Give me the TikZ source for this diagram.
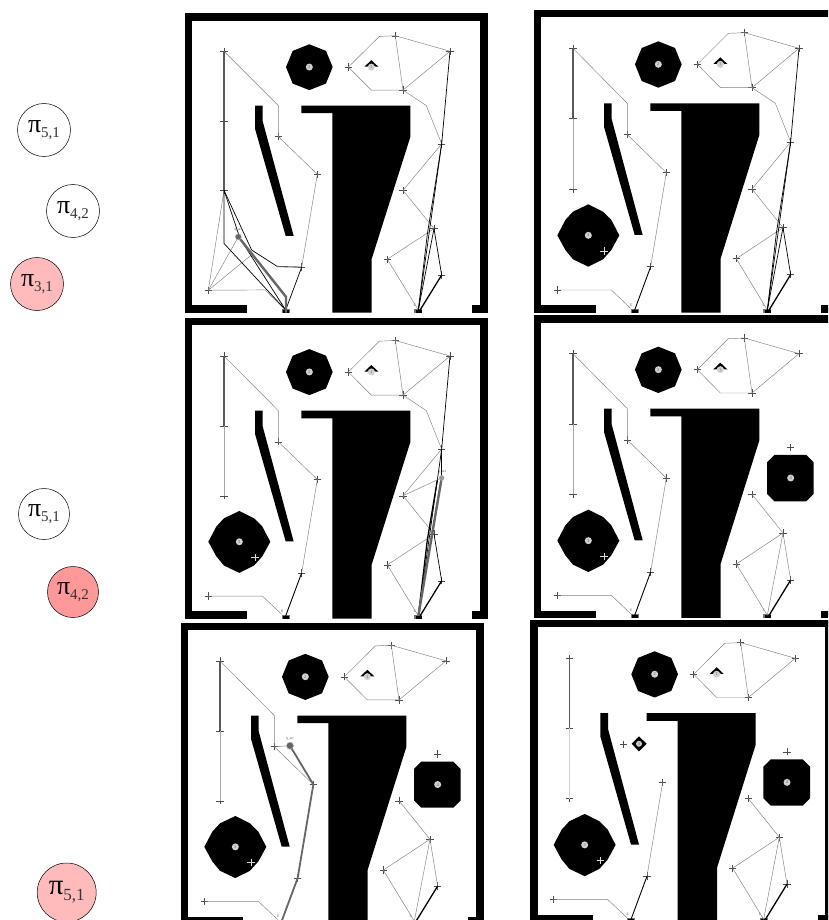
\documentclass[tikz,border=0pt]{standalone}
\usepackage{fontspec}
\setmainfont{Liberation Serif}
\usetikzlibrary{shapes.misc,shapes.geometric}
\definecolor{pinkA}{HTML}{FFBBBB}
\definecolor{pinkB}{HTML}{FF9999}
\tikzset{
  wall/.style={fill=black,draw=none},
  crossm/.style={cross out,draw=black!70,line width=.45pt,rotate=45,minimum size=5.2pt,inner sep=0pt,outer sep=0pt},
  whitecross/.style={crossm,draw=black!15,line width=.6pt},
  disc/.style={circle,fill=black!18,draw=none,minimum size=7pt,inner sep=0pt,font=\fontsize{4.5}{4.5}\selectfont,text=black!60},
  tinyl/.style={font=\fontsize{3.6}{3.6}\selectfont,text=black!65,inner sep=0pt},
  thinE/.style={draw=black!50,line width=.45pt},
  darkE/.style={draw=black!65,line width=1.1pt},
  lightE/.style={draw=black!35,line width=.6pt},
  paleE/.style={draw=black!18,line width=1pt},
  blackE/.style={draw=black,line width=.7pt},
  heavyB/.style={draw=black,line width=1.3pt},
  heavyG/.style={draw=black!60,line width=2.4pt},
  policy/.style={circle,draw=black,line width=.5pt,inner sep=0pt,font=\fontsize{26}{26}\selectfont},
  robot/.style={circle,fill=black!60,draw=black!30,line width=.4pt,minimum size=6pt,inner sep=0pt},
  sub/.style={}
}
\newcommand{\pisub}[1]{$\mathrm{\text{π}}$}
\newcommand{\polytext}[2]{π\raisebox{-5pt}{\fontsize{15}{15}\selectfont\textcolor{black!80}{#1,#2}}}
\newcommand{\wallsbase}{%
  \fill[wall] (18,30) rectangle (927,52);
  \fill[wall] (18,30) rectangle (40,938);
  \fill[wall] (903,30) rectangle (927,938);
  \fill[wall] (18,916) rectangle (205,938);
  \fill[wall] (880,916) rectangle (927,938);
  \fill[wall] (367,310) -- (694,310) -- (694,405) -- (578,775) -- (578,938) -- (460,938) -- (460,333) -- (367,333) -- cycle;
  \fill[wall] (228,310) -- (251,310) -- (251,357) -- (344,705) -- (320,705) -- (228,380) -- cycle;
  \fill[wall] (391,124) -- (441,144) -- (461,193) -- (441,243) -- (391,263) -- (341,243) -- (321,193) -- (341,144) -- cycle;
  \node[disc] (obtwo) at (391,193) {2};
  \fill[wall] (556,192) -- (577,172) -- (598,192) -- (590,192) -- (577,183) -- (565,192) -- cycle;
  \node[disc] (obone) at (577,193) {1};
  \fill[black!55] (308,927) rectangle (332,938);
  \fill[black!55] (706,927) rectangle (730,938);
  \fill[wall] (312,929) rectangle (330,938);
  \fill[wall] (710,929) rectangle (728,938);
  \node[tinyl] (lsa) at (310,916) {E};
  \node[tinyl] (lsb) at (707,916) {E};
  \coordinate (s1) at (320,930);
  \coordinate (s2) at (718,930);
  \coordinate (s2b) at (722,932);
}
\newcommand{\obthree}{%
  \fill[wall] (181,613) -- (225,635) -- (250,660) -- (274,706) -- (250,750) -- (225,778) -- (181,800) -- (135,778) -- (112,750) -- (88,706) -- (112,660) -- (135,635) -- cycle;
  \node[disc] (obthr) at (181,706) {3};
  \node[whitecross] (goalthr) at (228,753) {};
}
\newcommand{\obfour}{%
  \fill[wall] (739,449) -- (835,449) -- (857,471) -- (857,566) -- (835,588) -- (739,588) -- (717,566) -- (717,471) -- cycle;
  \node[disc] (obfr) at (788,518) {4};
}
\newcommand{\obfive}{%
  \fill[wall] (344,380) -- (367,402) -- (344,425) -- (322,402) -- cycle;
  \node[disc,minimum size=6pt] (obfv) at (344,402) {5};
}
\newcommand{\crosses}{%
  \node[crossm] (A) at (135,145) {};
  \node[crossm] (B) at (135,356) {};
  \node[crossm] (C) at (135,567) {};
  \node[crossm] (D) at (298,404) {};
  \node[crossm] (E) at (415,518) {};
  \node[crossm] (F) at (368,800) {};
  \node[crossm] (G) at (88,870) {};
  \node[crossm] (H) at (508,193) {};
  \node[crossm] (I) at (649,98) {};
  \node[crossm] (J) at (813,145) {};
  \node[crossm] (K) at (672,263) {};
  \node[crossm] (L) at (788,426) {};
  \node[crossm] (M) at (672,567) {};
  \node[crossm] (N) at (765,683) {};
  \node[crossm] (O) at (625,776) {};
  \node[crossm] (Q) at (788,824) {};
}
\newcommand{\topedges}{%
  \draw[thinE] (H.center) -- (601,100) -- (I.center) -- (J.center) -- (K.center) -- (I.center);
  \draw[thinE] (H.center) -- (577,263) -- (K.center);
}
\newcommand{\rightedges}{%
  \draw[thinE] (K.center) -- (742,310) -- (L.center) -- (M.center) -- (N.center) -- (O.center) -- (s2);
}
\newcommand{\lowrightedges}{%
  \draw[thinE] (M.center) -- (N.center) -- (O.center) -- (s2);
  \draw[thinE] (N.center) -- (s2);
  \draw[thinE] (N.center) -- (Q.center);
  \draw[heavyB] (Q.center) -- (s2b);
}
\newcommand{\blackright}{%
  \draw[blackE] (J.center) -- (L.center) -- (s2);
  \draw[blackE] (L.center) -- (745,700) -- (s2);
  \draw[blackE] (N.center) -- (s2);
  \draw[blackE] (N.center) -- (Q.center);
  \draw[heavyB] (Q.center) -- (s2b);
}
\newcommand{\leftedges}{%
  \draw[thinE] (A.center) -- (298,310) -- (D.center) -- (E.center);
}
\newcommand{\lowleft}{%
  \draw[thinE] (E.center) -- (F.center);
  \draw[thinE] (G.center) -- (250,870) -- (308,925);
  \draw[blackE,line width=.9pt] (F.center) -- (s1);
  \draw[darkE] (A.center) -- (B.center);
}
\newcommand{\policyoverlay}{}
\begin{document}
\begin{tikzpicture}[x=1pt,y=-1pt]
\path[use as bounding box,clip] (0,0) rectangle (828,920);
\fill[white] (0,0) rectangle (828,920);
% policy circles
\node[policy,minimum size=53pt] (p1) at (44,130) {\polytext{5}{1}};
\node[policy,minimum size=53pt] (p2) at (73,211) {\polytext{4}{2}};
\node[policy,minimum size=53pt,fill=pinkA] (p3) at (37,284) {\polytext{3}{1}};
\node[policy,minimum size=51pt] (p4) at (44,514) {\polytext{5}{1}};
\node[policy,minimum size=51pt,fill=pinkB] (p5) at (73,592) {\polytext{4}{2}};
\node[policy,minimum size=59pt,fill=pinkA,font=\fontsize{29}{29}\selectfont] (p6) at (66.7,892.5) {π\raisebox{-6pt}{\fontsize{17}{17}\selectfont\textcolor{black!80}{5,1}}};
% panel 1
\begin{scope}[shift={(179,3.44)},x=.33333pt,y=-.32967pt]
  \wallsbase \crosses \topedges \rightedges
  \blackright
  \leftedges
  \draw[thinE] (E.center) -- (F.center);
  \draw[darkE] (A.center) -- (C.center);
  \coordinate (qa) at (178,708);
  \draw[thinE] (G.center) -- (C.center);
  \draw[thinE] (G.center) -- (qa);
  \draw[thinE] (G.center) -- (223,758);
  \draw[thinE] (G.center) -- (258,869) -- (s1);
  \draw[blackE] (C.center) -- (135,728) -- (s1);
  \draw[blackE] (C.center) -- (183,713) -- (s1);
  \draw[blackE] (C.center) -- (218,748) -- (295,798);
  \draw[darkE] (295,798) -- (F.center);
  \draw[blackE] (F.center) -- (s1);
  \draw[heavyG] (qa) -- (321,890) -- (321,938);
  \node[robot] (ra) at (qa) {};
  \node[tinyl] (la) at (178,688) {q\_arr};
\end{scope}
% panel 2
\begin{scope}[shift={(528,0)},x=.33333pt,y=-.33333pt]
  \wallsbase \obthree \crosses \topedges \rightedges
  \blackright \leftedges \lowleft
  \draw[lightE] (B.center) -- (C.center);
\end{scope}
% panel 3
\begin{scope}[shift={(179,308.07)},x=.33333pt,y=-.331pt]
  \wallsbase \obthree \crosses \topedges \rightedges
  \leftedges \lowleft
  \draw[lightE] (B.center) -- (C.center);
  \coordinate (qc) at (788,513);
  \draw[blackE] (J.center) -- (L.center);
  \draw[heavyB] (L.center) -- (qc);
  \draw[blackE] (L.center) -- (s2);
  \draw[heavyB] (775,520) -- (745,700) -- (s2);
  \draw[blackE] (N.center) -- (Q.center);
  \draw[heavyB] (Q.center) -- (s2b);
  \draw[thinE] (M.center) -- (qc);
  \draw[heavyG] (qc) -- (s2);
  \node[robot,fill=black!40,minimum size=5pt] (rc) at (qc) {};
  \node[tinyl] (lc) at (790,495) {q\_arr};
\end{scope}
% panel 4
\begin{scope}[shift={(528,305.33)},x=.33333pt,y=-.33333pt]
  \wallsbase \obthree \obfour \crosses \topedges
  \lowrightedges \leftedges \lowleft
  \draw[lightE] (B.center) -- (C.center);
\end{scope}
% panel 5
\begin{scope}[shift={(175,612.72)},x=.33333pt,y=-.33167pt]
  \wallsbase \obthree \obfour \crosses \topedges
  \lowrightedges \leftedges
  \draw[thinE] (G.center) -- (250,870) -- (308,925);
  \draw[darkE] (A.center) -- (B.center);
  \draw[lightE] (B.center) -- (C.center);
  \coordinate (qe) at (345,401);
  \draw[thinE] (D.center) -- (qe);
  \draw[heavyG,line width=1.8pt] (qe) -- (E.center) -- (F.center) -- (s1);
  \node[robot,minimum size=7pt] (re) at (qe) {};
  \node[tinyl] (le) at (345,381) {q\_arr};
\end{scope}
% panel 6
\begin{scope}[shift={(524.33,610.02)},x=.33333pt,y=-.33267pt]
  \wallsbase \obthree \obfour \obfive \crosses \topedges
  \lowrightedges
  \draw[thinE] (E.center) -- (F.center);
  \draw[thinE] (G.center) -- (250,870) -- (308,925);
  \draw[blackE,line width=.9pt] (F.center) -- (s1);
  \draw[darkE] (A.center) -- (B.center);
  \draw[paleE] (B.center) -- (C.center);
\end{scope}
\end{tikzpicture}
\end{document}
